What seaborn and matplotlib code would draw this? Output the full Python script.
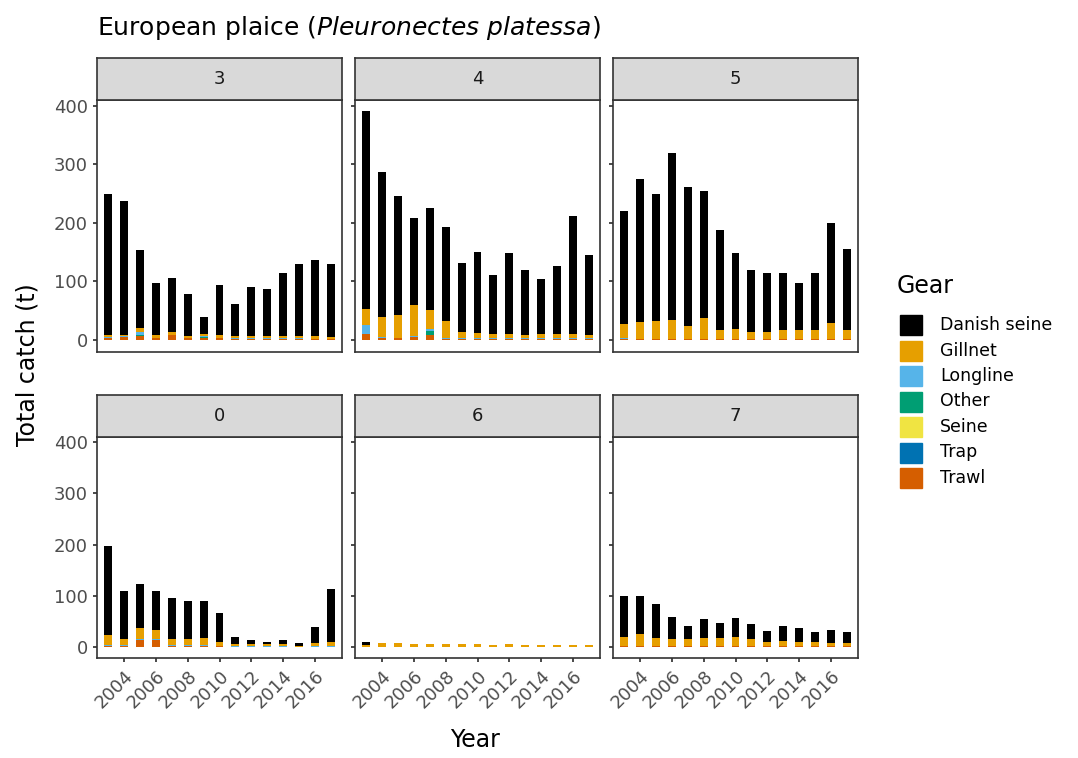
import matplotlib
matplotlib.use("Agg")
import matplotlib.pyplot as plt
import numpy as np
import pandas as pd
import seaborn as sns

years = list(range(2003, 2018))
gears = ['Danish seine', 'Gillnet', 'Longline', 'Other', 'Seine', 'Trap', 'Trawl']
colors = ['#000000', '#E69F00', '#56B4E9', '#009E73', '#F0E442', '#0072B2', '#D55E00']
panels = ['3', '4', '5', '0', '6', '7']

# totals per panel (top of bar)
total = {
    '3': [250, 238, 153, 98, 106, 79, 40, 94, 61, 90, 87, 115, 130, 137, 130],
    '4': [392, 287, 246, 209, 226, 193, 132, 151, 111, 148, 120, 104, 127, 211, 145],
    '5': [220, 275, 250, 320, 262, 255, 188, 148, 120, 115, 115, 98, 115, 200, 155],
    '0': [198, 110, 123, 110, 97, 90, 90, 67, 20, 15, 10, 15, 8, 40, 113],
    '6': [10, 9, 8, 6, 7, 6, 6, 6, 5, 6, 5, 5, 5, 5, 5],
    '7': [100, 100, 85, 60, 42, 55, 47, 58, 45, 32, 42, 38, 30, 35, 30],
}
gillnet = {
    '3': [3, 3, 6, 4, 4, 3, 3, 4, 3, 3, 3, 4, 4, 4, 3],
    '4': [28, 35, 38, 52, 33, 30, 11, 9, 7, 8, 6, 7, 8, 8, 6],
    '5': [25, 28, 30, 33, 22, 36, 15, 17, 12, 12, 15, 15, 15, 27, 15],
    '0': [20, 12, 22, 18, 12, 12, 15, 8, 4, 4, 4, 4, 3, 7, 8],
    '6': [5, 8, 8, 6, 7, 6, 6, 6, 5, 6, 5, 5, 5, 5, 5],
    '7': [18, 23, 16, 13, 13, 16, 16, 18, 13, 8, 10, 8, 8, 6, 6],
}
longline = {
    '3': [1, 1, 6, 1, 1, 1, 2, 1, 2, 2, 2, 2, 2, 1, 1],
    '4': [15, 2, 1, 2, 2, 1, 1, 1, 2, 1, 1, 1, 1, 1, 1],
    '5': [1, 1, 1, 1, 1, 1, 1, 1, 1, 1, 1, 1, 1, 1, 1],
    '0': [2, 2, 1, 1, 1, 1, 1, 1, 1, 1, 1, 1, 0, 1, 1],
    '6': [0] * 15,
    '7': [1, 1, 1, 1, 1, 1, 1, 1, 1, 1, 1, 1, 1, 1, 1],
}
other = {
    '3': [0, 0, 2, 0, 0, 0, 2, 0, 0, 0, 0, 0, 0, 0, 0],
    '4': [0, 0, 0, 0, 8, 0, 0, 0, 0, 0, 0, 0, 0, 0, 0],
    '5': [0] * 15, '0': [0] * 15, '6': [0] * 15, '7': [0] * 15,
}
seine = {p: [0] * 15 for p in panels}
trap = {p: [0] * 15 for p in panels}
trawl = {
    '3': [4, 5, 6, 3, 8, 3, 3, 3, 1, 1, 1, 1, 1, 1, 1],
    '4': [10, 3, 3, 5, 8, 2, 2, 2, 2, 2, 2, 2, 2, 2, 2],
    '5': [2, 1, 1, 1, 1, 1, 1, 1, 1, 1, 1, 1, 1, 1, 1],
    '0': [3, 2, 15, 15, 3, 3, 3, 2, 1, 1, 1, 1, 0, 1, 1],
    '6': [0] * 15,
    '7': [2, 2, 2, 2, 2, 2, 2, 2, 2, 2, 2, 2, 2, 2, 2],
}

sns.set_theme(style="white")
plt.rcParams['font.family'] = ['DejaVu Sans']
fig = plt.figure(figsize=(10.78, 7.58), dpi=100)
W, H = 1078, 758

lefts = [97, 355, 613]
widths = 245
rows = [(100, 352, 58), (437, 658, 395)]
xt = [2004, 2006, 2008, 2010, 2012, 2014, 2016]

for i, p in enumerate(panels):
    r, c = divmod(i, 3)
    top, bot, stop = rows[r]
    ax = fig.add_axes([lefts[c] / W, 1 - bot / H, widths / W, (bot - top) / H])
    sax = fig.add_axes([lefts[c] / W, 1 - top / H, widths / W, (top - stop) / H])
    sax.set_facecolor('#D9D9D9')
    sax.set_xticks([]); sax.set_yticks([])
    for s in sax.spines.values():
        s.set_color('#333333'); s.set_linewidth(1.2)
    sax.text(0.5, 0.5, p, ha='center', va='center', fontsize=13, color='#1A1A1A', transform=sax.transAxes)

    layers = [trawl[p], trap[p], seine[p], other[p], longline[p], gillnet[p]]
    cum = np.zeros(15)
    cums = []
    for l in layers:
        cum = cum + np.array(l)
        cums.append(cum.copy())
    # top of stack down: total (Danish seine), gillnet, longline, other, seine, trap, trawl
    stacks = [np.array(total[p], float)] + cums[::-1]
    for h, col in zip(stacks, colors):
        df = pd.DataFrame({'year': years, 'value': h})
        sns.barplot(data=df, x='year', y='value', native_scale=True, color=col,
                    width=0.5, saturation=1, ax=ax, linewidth=0)
    ax.set_xlim(2002.3, 2017.7)
    ax.set_ylim(-20.5, 410)
    ax.set_xlabel(''); ax.set_ylabel('')
    ax.set_yticks([0, 100, 200, 300, 400])
    ax.set_xticks(xt)
    for s in ax.spines.values():
        s.set_color('#333333'); s.set_linewidth(1.2)
    ax.tick_params(axis='both', length=3, color='#333333', labelsize=13, labelcolor='#4D4D4D',
                   left=True, bottom=True)
    if c != 0:
        ax.set_yticklabels([])
    if r == 0:
        ax.set_xticklabels([])
        ax.tick_params(bottom=False)
    else:
        ax.set_xticklabels([str(y) for y in xt], rotation=45, ha='right', rotation_mode='anchor')

fig.text(97 / W, 1 - 28 / H, 'European plaice ($\\it{Pleuronectes\\ platessa}$)', fontsize=18,
         va='center', color='black')
fig.text(475 / W, 1 - 740 / H, 'Year', fontsize=17, ha='center', va='center', color='black')
fig.text(28 / W, 1 - 365 / H, 'Total catch (t)', fontsize=17, ha='center', va='center',
         rotation=90, color='black')

fig.text(897 / W, 1 - 286 / H, 'Gear', fontsize=17, va='center', color='black')
for k, (g, col) in enumerate(zip(gears, colors)):
    y = 325 + k * 25.5
    fig.patches.append(plt.Rectangle((900 / W, 1 - (y + 10) / H), 22 / W, 20 / H,
                                     color=col, transform=fig.transFigure, figure=fig))
    fig.text(940 / W, 1 - y / H, g, fontsize=12.5, va='center', color='black')

fig.savefig('out.png', dpi=100)
